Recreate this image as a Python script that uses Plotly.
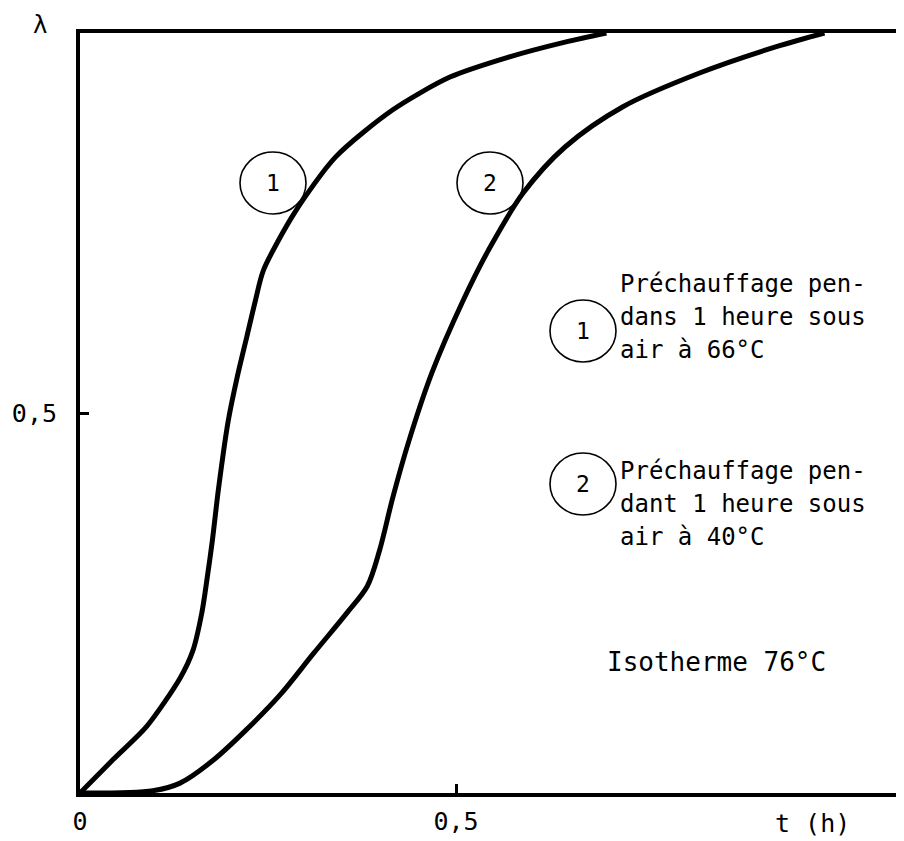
import plotly.graph_objects as go

# curve 1: preheated 1 h in air at 66 C
t1 = [0, 0.044, 0.089, 0.133, 0.150, 0.162, 0.169, 0.176, 0.184, 0.197, 0.209, 0.222,
      0.233, 0.244, 0.285, 0.340, 0.416, 0.492, 0.569, 0.645, 0.700]
lam1 = [0, 0.044, 0.088, 0.151, 0.187, 0.237, 0.282, 0.332, 0.399, 0.489, 0.547, 0.601,
        0.647, 0.688, 0.763, 0.837, 0.899, 0.942, 0.968, 0.988, 1.0]

# curve 2: preheated 1 h in air at 40 C
t2 = [0, 0.097, 0.133, 0.177, 0.222, 0.266, 0.310, 0.355, 0.382, 0.398, 0.416,
      0.437, 0.468, 0.509, 0.543, 0.589, 0.645, 0.722, 0.823, 0.926, 0.990]
lam2 = [0, 0.003, 0.013, 0.043, 0.084, 0.129, 0.183, 0.237, 0.272, 0.318, 0.389,
        0.462, 0.553, 0.647, 0.714, 0.789, 0.850, 0.903, 0.947, 0.982, 1.0]

x_ticks = [0, 0.5]
x_ticktext = ["0", "0,5"]
y_ticks = [0.5]
y_ticktext = ["0,5"]

legend_1 = ["Préchauffage pen-", "dans 1 heure sous", "air à 66°C"]
legend_2 = ["Préchauffage pen-", "dant 1 heure sous", "air à 40°C"]
note = "Isotherme 76°C"

# the page body has an 8px margin, so the figure is drawn 8px smaller and shifted
PAD = 8
W, H = 904 - PAD, 841 - PAD
L, R, T, B = 80 - PAD, 0, 33 - PAD, 48
PW, PH = W - L - R, H - T - B
FONT = "DejaVu Sans Mono"


def paper(px, py):
    # page pixels -> paper coordinates
    return (px - PAD - L) / PW, (H - B - (py - PAD)) / PH


fig = go.Figure()
for t, lam, sm in [(t1, lam1, 0.75), (t2, lam2, 0.9)]:
    fig.add_trace(go.Scatter(x=t, y=lam, mode="lines",
                             line=dict(color="black", width=5, shape="spline", smoothing=sm),
                             showlegend=False, hoverinfo="skip"))

ann = []


def text(px, py, s, anchor="center", size=24):
    x, y = paper(px, py)
    ann.append(dict(x=x, y=y, xref="paper", yref="paper", text=s, showarrow=False,
                    xanchor=anchor, yanchor="middle",
                    font=dict(family=FONT, size=size, color="black")))


shapes = []


def circle(px, py, label, r=33):
    x, y = paper(px, py)
    shapes.append(dict(type="circle", xref="paper", yref="paper",
                       xsizemode="pixel", ysizemode="pixel", xanchor=x, yanchor=y,
                       x0=-r, x1=r, y0=-r + 2, y1=r - 2,
                       line=dict(color="black", width=1.6)))
    text(px, py, label, size=23)


circle(273, 183, "1")
circle(490, 183, "2")
circle(583, 331, "1")
circle(583, 484, "2")

for i, s in enumerate(legend_1):
    text(618, 284 + 33 * i, s, anchor="left")
for i, s in enumerate(legend_2):
    text(618, 471 + 33 * i, s, anchor="left")
text(605, 662, note, anchor="left", size=26)

text(40, 25, "λ", size=24)
text(812, 823, "t (h)", size=25)

fig.update_layout(
    width=W, height=H,
    margin=dict(l=L, r=R, t=T, b=B),
    paper_bgcolor="white", plot_bgcolor="white",
    annotations=ann, shapes=shapes,
    font=dict(family=FONT, size=25, color="black"),
    xaxis=dict(range=[0, PW / 752], showgrid=False, zeroline=False,
               showline=True, linecolor="black", linewidth=4, mirror=True,
               tickvals=x_ticks, ticktext=x_ticktext, ticks="inside",
               ticklen=9, tickwidth=3, tickcolor="black", ticklabelstandoff=3),
    yaxis=dict(range=[0, 1], showgrid=False, zeroline=False,
               showline=True, linecolor="black", linewidth=4,
               tickvals=y_ticks, ticktext=y_ticktext, ticks="inside",
               ticklen=9, tickwidth=3, tickcolor="black", ticklabelstandoff=14),
)

fig.write_html("out.html")
